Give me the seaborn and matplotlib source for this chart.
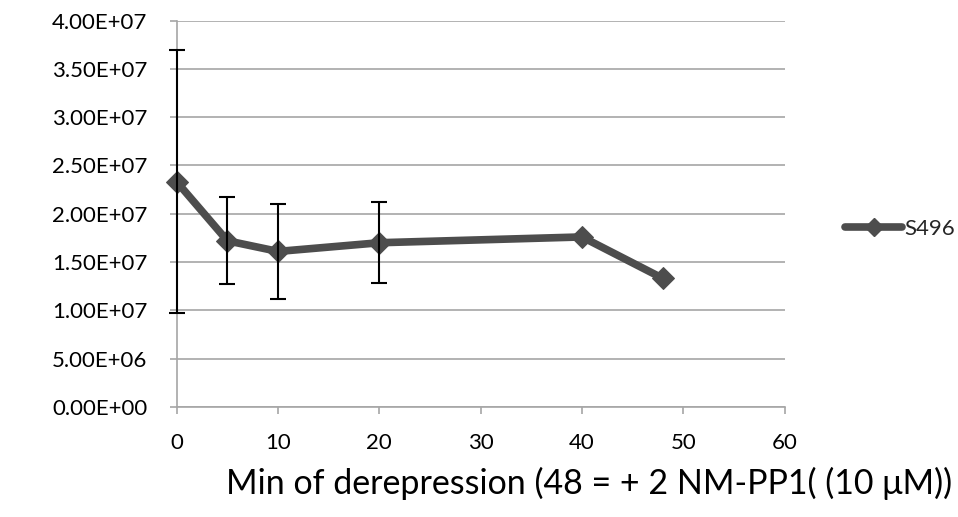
import numpy as np
import pandas as pd
import matplotlib
matplotlib.use('Agg')
import matplotlib.pyplot as plt
import seaborn as sns
from matplotlib.ticker import FuncFormatter
from matplotlib.lines import Line2D

# Data
minutes = [0, 5, 10, 20, 40, 48]
signal = [2.33e7, 1.72e7, 1.61e7, 1.70e7, 1.76e7, 1.33e7]
# error bars only exist for the first four points
err_minutes = [0, 5, 10, 20]
err_signal = [2.33e7, 1.72e7, 1.61e7, 1.70e7]
err_size = [1.36e7, 0.45e7, 0.49e7, 0.42e7]

series_name = 'S496'
x_label = 'Min of derepression (48 = + 2 NM-PP1( (10 \u03bcM))'

df = pd.DataFrame({'Min': minutes, 'Signal': signal})

sns.set_style('white')
plt.rcParams['font.family'] = ['Lato', 'DejaVu Sans']

fig = plt.figure(figsize=(9.58, 5.17), dpi=100)
ax = fig.add_axes([0.1845, 0.2128, 0.6345, 0.7475])

line_color = '#4d4d4d'
sns.lineplot(data=df, x='Min', y='Signal', ax=ax, color=line_color, linewidth=5.5,
             marker='D', markersize=11.5, markeredgecolor=line_color,
             markerfacecolor=line_color, zorder=3, legend=False)
for ln in ax.lines:
    ln.set_clip_on(False)

# black error bars drawn on top of the series
eb = ax.errorbar(err_minutes, err_signal, yerr=err_size, fmt='none', ecolor='black',
                 elinewidth=1.5, capsize=5.5, capthick=1.5, zorder=4)
for art in eb.lines[1] + eb.lines[2]:
    art.set_clip_on(False)

ax.set_xlim(0, 60)
ax.set_ylim(0, 4e7)
ax.set_xticks(range(0, 61, 10))
ax.set_yticks(np.arange(0, 4.01e7, 5e6))
ax.yaxis.set_major_formatter(FuncFormatter(lambda v, p: f'{v:.2E}'))

ax.grid(axis='y', color='#a6a6a6', linewidth=1.2)
ax.grid(axis='x', visible=False)
ax.set_axisbelow(True)
for side in ['top', 'right']:
    ax.spines[side].set_visible(False)
for side in ['left', 'bottom']:
    ax.spines[side].set_color('#a6a6a6')
    ax.spines[side].set_linewidth(1.2)

ax.tick_params(axis='both', which='major', direction='out', length=5, width=1.2,
               color='#a6a6a6', labelsize=16, labelcolor='black',
               left=True, bottom=True)
ax.tick_params(axis='y', pad=16)
ax.tick_params(axis='x', pad=14)

ax.set_ylabel('')
ax.set_xlabel(x_label, fontsize=24.5, color='black', va='center')
ax.xaxis.set_label_coords(0.679, -0.197)

handle = Line2D([], [], color=line_color, linewidth=5.5, marker='D', markersize=9,
                markerfacecolor=line_color, markeredgecolor=line_color)
ax.legend([handle], [series_name], loc='center left', bbox_to_anchor=(1.066, 0.46),
          frameon=False, fontsize=16, handlelength=2.6, handletextpad=0.1)

fig.savefig('out.png', dpi=100)
